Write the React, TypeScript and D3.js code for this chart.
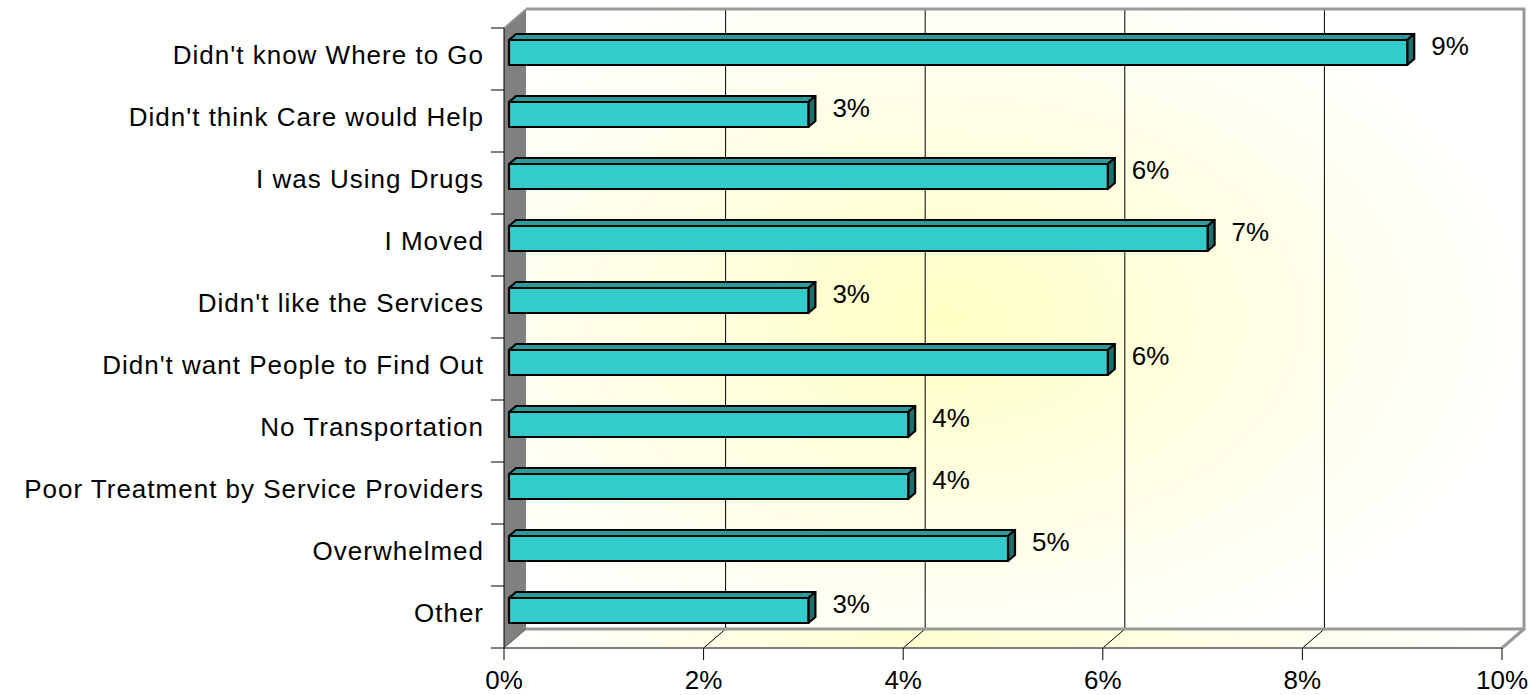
import React from "react";
import * as d3 from "d3";

const categories = [
  "Didn't know Where to Go",
  "Didn't think Care would Help",
  "I was Using Drugs",
  "I Moved",
  "Didn't like the Services",
  "Didn't want People to Find Out",
  "No Transportation",
  "Poor Treatment by Service Providers",
  "Overwhelmed",
  "Other",
];
const values = [9, 3, 6, 7, 3, 6, 4, 4, 5, 3];
const valueLabels = ["9%", "3%", "6%", "7%", "3%", "6%", "4%", "4%", "5%", "3%"];
const xTicks = [0, 2, 4, 6, 8, 10];

const W = 1537;
const H = 695;
const X0 = 504;
const X1 = 1502;
const YTOP = 28;
const YBOT = 648;
const DX = 22;
const DY = -19;
const FONT = "'Liberation Sans', Arial, sans-serif";

export default function App() {
  const x = d3.scaleLinear().domain([0, 10]).range([X0, X1]);
  const y = d3.scaleBand<string>().domain(categories).range([YTOP, YBOT]);
  const bw = y.bandwidth();

  const barFrontOff = 5;
  const barH = 25;
  const bdx = 7;
  const bdy = -6;

  const back = { x0: X0 + DX, x1: X1 + DX, y0: YTOP + DY, y1: YBOT + DY };

  return (
    <svg width={W} height={H} style={{ position: "absolute", left: 0, top: 0 }}>
      <defs>
        <radialGradient id="wallGrad" cx="0.42" cy="0.5" r="0.6">
          <stop offset="0" stopColor="#FFFFC4" />
          <stop offset="0.5" stopColor="#FFFFE4" />
          <stop offset="1" stopColor="#FFFFFF" />
        </radialGradient>
        <linearGradient id="floorGrad" x1="0" x2="1" y1="0" y2="0">
          <stop offset="0" stopColor="#FFFFFF" />
          <stop offset="0.4" stopColor="#FFFFD0" />
          <stop offset="1" stopColor="#FFFFFF" />
        </linearGradient>
      </defs>
      <rect x={0} y={0} width={W} height={H} fill="#fff" />
      <rect x={back.x0} y={back.y0} width={back.x1 - back.x0} height={back.y1 - back.y0} fill="url(#wallGrad)" />
      {xTicks.slice(1, -1).map((t) => (
        <line key={t} x1={x(t) + DX} x2={x(t) + DX} y1={back.y0} y2={back.y1} stroke="#000" strokeWidth={1} />
      ))}
      <polygon
        points={`${X0},${YBOT} ${X0 + DX},${YBOT + DY} ${X1 + DX},${YBOT + DY} ${X1},${YBOT}`}
        fill="url(#floorGrad)"
      />
      {xTicks.slice(1, -1).map((t) => (
        <line key={"f" + t} x1={x(t)} y1={YBOT} x2={x(t) + DX} y2={YBOT + DY} stroke="#000" strokeWidth={1} />
      ))}
      <polygon
        points={`${X0},${YTOP} ${X0 + DX},${YTOP + DY} ${X0 + DX},${YBOT + DY} ${X0},${YBOT}`}
        fill="#808080"
      />
      <polyline
        points={`${back.x0},${back.y0} ${back.x1},${back.y0} ${back.x1},${back.y1} ${back.x0},${back.y1}`}
        fill="none"
        stroke="#999"
        strokeWidth={3}
      />
      <line x1={back.x0} y1={back.y0} x2={X0} y2={YTOP} stroke="#999" strokeWidth={1.5} />
      <line x1={back.x1} y1={back.y1} x2={X1} y2={YBOT} stroke="#999" strokeWidth={3} />
      <line x1={X0} y1={YBOT} x2={X1} y2={YBOT} stroke="#555" strokeWidth={1.5} />
      <line x1={X0 + DX} y1={YBOT + DY} x2={X0} y2={YBOT} stroke="#555" strokeWidth={1} />
      <line x1={X0} y1={YTOP} x2={X0} y2={YBOT} stroke="#000" strokeWidth={1} />
      {d3.range(categories.length + 1).map((i) => {
        const yy = YTOP + i * bw;
        return <line key={"t" + i} x1={X0 - 13} x2={X0} y1={yy} y2={yy} stroke="#000" strokeWidth={1} />;
      })}
      {xTicks.map((t) => (
        <g key={"x" + t}>
          <line x1={x(t)} x2={x(t)} y1={YBOT} y2={YBOT + 12} stroke="#000" strokeWidth={1} />
          <text x={x(t)} y={689} textAnchor="middle" fontFamily={FONT} fontSize={26} fill="#000">
            {t + "%"}
          </text>
        </g>
      ))}
      {categories.map((c) => (
        <text
          key={c}
          x={484}
          y={(y(c) as number) + bw / 2 + 5}
          textAnchor="end"
          fontFamily={FONT}
          fontSize={26}
          letterSpacing={1}
          fill="#000"
        >
          {c}
        </text>
      ))}
      {categories.map((c, i) => {
        const cy = (y(c) as number) + bw / 2 - 6.5;
        const xs = X0 + barFrontOff;
        const xe = x(values[i]) + barFrontOff;
        const t = cy - barH / 2;
        const b = cy + barH / 2;
        return (
          <g key={"b" + c} stroke="#000" strokeWidth={2.2} strokeLinejoin="round">
            <polygon points={`${xs},${t} ${xs + bdx},${t + bdy} ${xe + bdx},${t + bdy} ${xe},${t}`} fill="#2A9C9C" />
            <polygon points={`${xe},${t} ${xe + bdx},${t + bdy} ${xe + bdx},${b + bdy} ${xe},${b}`} fill="#1F6E6E" />
            <rect x={xs} y={t} width={xe - xs} height={barH} fill="#33CCCC" />
            <text x={xe + 24} y={cy + 2} fontFamily={FONT} fontSize={26} fill="#000" stroke="none">
              {valueLabels[i]}
            </text>
          </g>
        );
      })}
    </svg>
  );
}
